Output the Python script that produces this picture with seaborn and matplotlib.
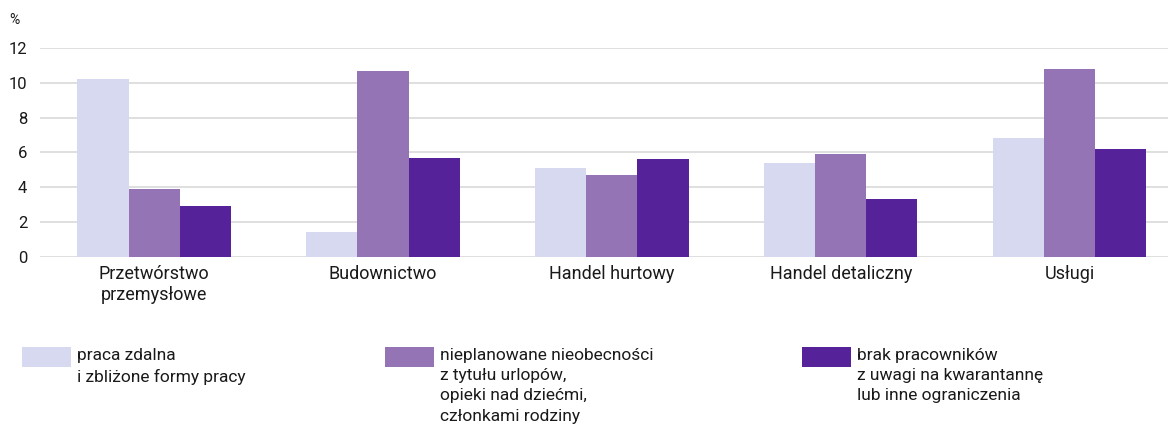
import pandas as pd
import matplotlib.pyplot as plt
import seaborn as sns
from matplotlib.patches import Rectangle

# Data
categories = ["Przetwórstwo\nprzemysłowe", "Budownictwo", "Handel hurtowy",
              "Handel detaliczny", "Usługi"]
series = ["praca zdalna\ni zbliżone formy pracy",
          "nieplanowane nieobecności\nz tytułu urlopów,\nopieki nad dziećmi,\nczłonkami rodziny",
          "brak pracowników\nz uwagi na kwarantannę\nlub inne ograniczenia"]
praca_zdalna = [10.2, 1.4, 5.1, 5.4, 6.8]
nieobecnosci = [3.9, 10.7, 4.7, 5.9, 10.8]
brak_pracownikow = [2.9, 5.7, 5.6, 3.3, 6.2]
colors = ["#d6d9ef", "#9474b4", "#55229a"]

df = pd.DataFrame({
    "kategoria": categories * 3,
    "seria": [series[0]] * 5 + [series[1]] * 5 + [series[2]] * 5,
    "wartosc": praca_zdalna + nieobecnosci + brak_pracownikow,
})

sns.set_style("white")
plt.rcParams['font.family'] = ['Roboto', 'DejaVu Sans']

fig = plt.figure(figsize=(11.68, 4.28), dpi=100)
ax = fig.add_axes([0.034, 0.400, 0.966, 0.488])

sns.barplot(data=df, x="kategoria", y="wartosc", hue="seria", palette=colors,
            width=0.67, linewidth=0, saturation=1, ax=ax, legend=False)

ax.set_ylim(0, 12)
ax.set_xlim(-0.5, 4.43)
ax.set_yticks(range(0, 13, 2))
ax.yaxis.grid(True, color="#dcdcdc", linewidth=1.3)
ax.set_axisbelow(True)
for s in ax.spines.values():
    s.set_visible(False)
ax.set_xlabel("")
ax.set_ylabel("")
ax.tick_params(axis="both", length=0, colors="#1a1a1a")
ax.tick_params(axis="x", pad=6, labelsize=13)
ax.tick_params(axis="y", pad=9, labelsize=12)
fig.text(0.008, 0.945, "%", fontsize=10, color="#1a1a1a")

# Legend: three entries along the bottom, swatch aligned with first line
sw_x = [0.019, 0.330, 0.687]
for i in range(3):
    fig.patches.append(Rectangle((sw_x[i], 0.142), 0.042, 0.047,
                                 transform=fig.transFigure,
                                 facecolor=colors[i], edgecolor="none"))
    fig.text(sw_x[i] + 0.047, 0.186, series[i], fontsize=12.5, va="top",
             ha="left", linespacing=1.42, color="#1a1a1a")

plt.savefig("out.png", dpi=100)
